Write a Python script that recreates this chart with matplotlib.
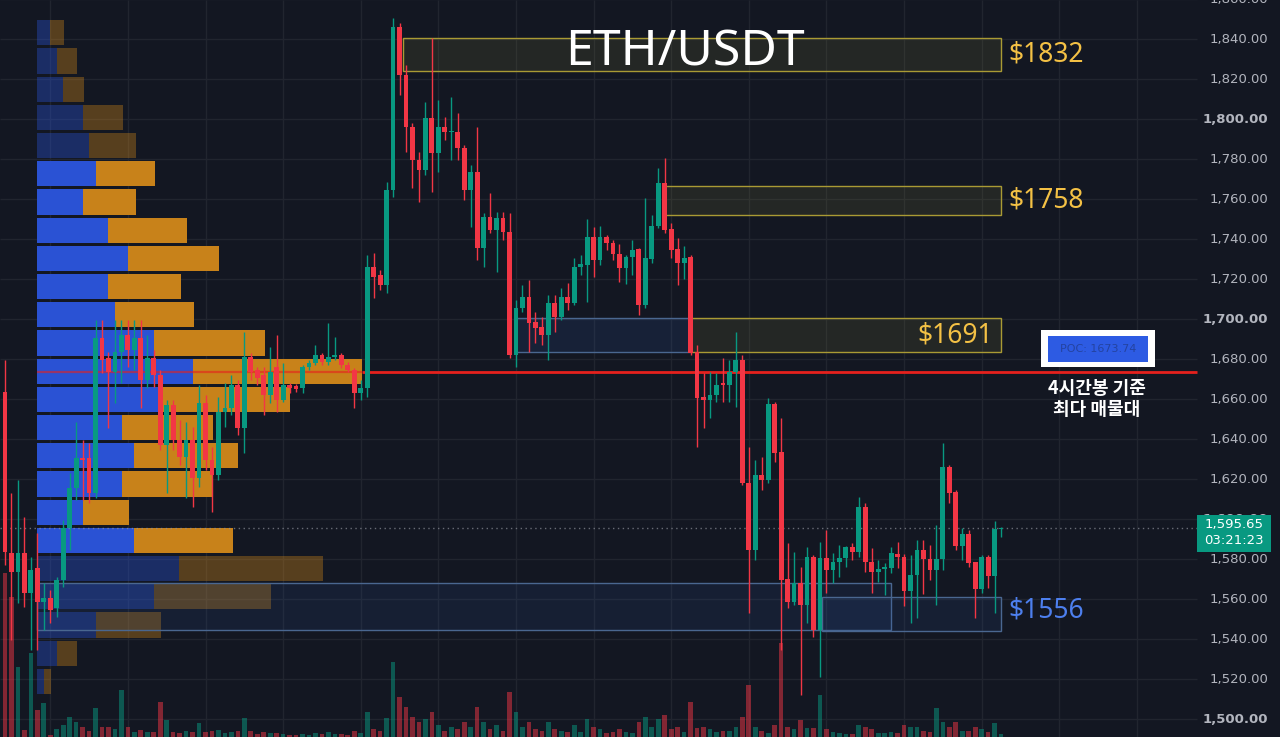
import matplotlib
matplotlib.use('Agg')
import matplotlib.pyplot as plt
from matplotlib.patches import Rectangle
import numpy as np

#### ETH/USDT 4H chart with volume profile ####

BG = '#131722'
UP = '#089981'
DOWN = '#F23645'
GRID = '#21252F'
BLUE = '#2A52D4'
ORANGE = '#C8821A'
GOLD = '#F4C145'

# 4H candles (oldest -> newest)
opens = [1663.5, 1583, 1573.5, 1583, 1563, 1575.5, 1558.5, 1560.5, 1555.5, 1569.5,
         1595.5, 1615.5, 1630.5, 1630.5, 1613, 1690.5, 1680.5, 1673.5, 1683.5, 1692,
         1684.5, 1690.5, 1669.5, 1680.5, 1672, 1637, 1657, 1639.5, 1631, 1639.5,
         1620.5, 1658, 1629.5, 1622, 1653.5, 1655.5, 1667, 1645.5, 1681, 1674.5,
         1672, 1662, 1676, 1659.5, 1667, 1666.5, 1665.5, 1676, 1678, 1682,
         1678.5, 1681, 1682, 1677, 1674.5, 1663, 1665.5, 1726, 1722, 1717,
         1764.5, 1846, 1822, 1796, 1779.5, 1774.5, 1800.5, 1783, 1796, 1793.5,
         1793.5, 1785.5, 1764.5, 1773.5, 1735.5, 1751, 1744.5, 1750.5, 1743.5, 1682,
         1705.5, 1711, 1698.5, 1696, 1692, 1708, 1701, 1711, 1708, 1726,
         1727, 1741, 1729.5, 1741, 1738, 1732.5, 1725.5, 1731, 1735, 1707,
         1730, 1746.5, 1768, 1745, 1735, 1728, 1731, 1683.5, 1661, 1659.5,
         1662, 1668, 1667, 1673.5, 1679.5, 1618, 1584.5, 1622, 1619.5, 1657.5,
         1633.5, 1570, 1558.5, 1568, 1557, 1581, 1544.5, 1580.5, 1574.5, 1578.5,
         1580.5, 1586, 1583.5, 1606, 1578.5, 1573.5, 1575, 1575.5, 1582.5, 1581,
         1564, 1572, 1584.5, 1580, 1574.5, 1580, 1626, 1613.5, 1586.5, 1592.5,
         1578.5, 1565, 1581, 1571.5, 1595]
highs = [1679.5, 1613, 1619.5, 1601, 1581, 1593, 1568, 1564.5, 1571, 1599.5,
         1623, 1648.5, 1639.5, 1638, 1699.5, 1699.5, 1683.5, 1699.5, 1699.5, 1699.5,
         1699.5, 1699.5, 1692, 1684.5, 1674.5, 1659.5, 1659.5, 1649.5, 1648.5, 1646,
         1667, 1662, 1636, 1661, 1668, 1672, 1669.5, 1693.5, 1683, 1676,
         1676, 1686, 1692, 1678, 1668, 1667.5, 1677, 1679.5, 1687, 1683,
         1698, 1691, 1683, 1678.5, 1675.5, 1669.5, 1732, 1733, 1724.5, 1768.5,
         1850.5, 1848, 1827, 1798, 1783.5, 1808.5, 1840.5, 1809.5, 1801, 1811,
         1803, 1787, 1777, 1796, 1753, 1763, 1753.5, 1753.5, 1753, 1709.5,
         1717, 1719.5, 1703.5, 1701, 1712, 1712, 1715.5, 1718, 1730.5, 1732,
         1750, 1746, 1746.5, 1742, 1739.5, 1737.5, 1732, 1739.5, 1735.5, 1760.5,
         1752, 1775.5, 1780.5, 1748, 1740.5, 1736.5, 1732, 1687, 1673, 1673.5,
         1673, 1680.5, 1679.5, 1693.5, 1682, 1636, 1629.5, 1631, 1660.5, 1658.5,
         1650.5, 1588, 1583.5, 1576, 1586, 1582, 1588.5, 1594.5, 1583, 1587,
         1586.5, 1588, 1611, 1608, 1585.5, 1579.5, 1578, 1586, 1588.5, 1582.5,
         1582, 1589.5, 1589.5, 1587, 1597, 1638, 1627, 1614.5, 1595.5, 1594.5,
         1578.5, 1582, 1582, 1599, 1596]
lows = [1577, 1539.5, 1558, 1556, 1534.5, 1534.5, 1544.5, 1548, 1551, 1566,
        1584.5, 1609.5, 1609.5, 1608, 1610.5, 1673, 1645.5, 1658, 1668, 1676,
        1674.5, 1655.5, 1665.5, 1666, 1634.5, 1613, 1634.5, 1627, 1610.5, 1606,
        1616, 1624.5, 1603.5, 1619.5, 1646, 1652, 1642, 1633, 1669.5, 1667,
        1652, 1658, 1653.5, 1658.5, 1663, 1663.5, 1663, 1674.5, 1677, 1677,
        1677, 1679.5, 1675.5, 1673.5, 1655.5, 1659.5, 1661, 1710.5, 1714.5, 1713,
        1761, 1812, 1783.5, 1765.5, 1758.5, 1772, 1763.5, 1773.5, 1789.5, 1779.5,
        1779.5, 1759.5, 1746, 1729.5, 1726, 1743, 1723.5, 1739.5, 1680.5, 1676,
        1703.5, 1683.5, 1688, 1687, 1679.5, 1693.5, 1699.5, 1704.5, 1707, 1722,
        1708.5, 1721, 1727, 1734.5, 1729.5, 1718.5, 1717.5, 1722, 1702, 1705.5,
        1728, 1745.5, 1743, 1730.5, 1717, 1720, 1682, 1636, 1645.5, 1650.5,
        1658.5, 1658.5, 1658.5, 1656, 1617, 1553, 1579.5, 1614.5, 1618, 1628.5,
        1534.5, 1555.5, 1557, 1512, 1548, 1541, 1521, 1563, 1568, 1571,
        1576, 1579.5, 1581, 1573.5, 1563, 1568.5, 1562, 1573, 1575.5, 1556.5,
        1548, 1550.5, 1562.5, 1569.5, 1557, 1574.5, 1608, 1584.5, 1579.5, 1576,
        1550.5, 1563, 1565.5, 1553, 1591]
closes = [1583.5, 1573.5, 1583, 1563, 1574.5, 1558.5, 1560.5, 1554.5, 1569.5, 1595.5,
          1615.5, 1630.5, 1629.5, 1613, 1690.5, 1679.5, 1673.5, 1683.5, 1692, 1684.5,
          1690.5, 1669.5, 1680.5, 1672, 1637, 1657, 1639.5, 1631, 1639.5, 1620.5,
          1658, 1629.5, 1622, 1653.5, 1655.5, 1667, 1645.5, 1681, 1673.5, 1670.5,
          1662, 1673.5, 1659.5, 1667, 1665.5, 1665, 1676, 1678, 1682, 1678.5,
          1681, 1682, 1677, 1674.5, 1663, 1665.5, 1726, 1721, 1717, 1764.5,
          1846, 1822, 1796, 1779.5, 1774.5, 1800.5, 1783, 1796, 1793.5, 1794,
          1785.5, 1764.5, 1773.5, 1735.5, 1751, 1744.5, 1750.5, 1743.5, 1682, 1705.5,
          1711, 1698, 1695.5, 1692, 1708, 1701, 1711, 1708, 1726, 1727.5,
          1741, 1729.5, 1741, 1738, 1732.5, 1725.5, 1731, 1734.5, 1707, 1730.5,
          1746.5, 1768, 1744.5, 1734.5, 1728, 1730.5, 1683, 1660.5, 1659.5, 1662,
          1667, 1667, 1673.5, 1679.5, 1618, 1584.5, 1622, 1619.5, 1657.5, 1633,
          1569.5, 1558.5, 1568, 1557, 1581, 1544.5, 1580.5, 1574.5, 1578.5, 1580.5,
          1586, 1583.5, 1606, 1578.5, 1573.5, 1575, 1576, 1583, 1581, 1564,
          1572, 1584.5, 1580, 1574.5, 1580, 1626, 1613, 1586.5, 1592.5, 1578,
          1565, 1581, 1571.5, 1595, 1595.65]
volumes = [164, 140, 70, 7, 84, 27, 34, 2, 8, 12,
           20, 15, 10, 6, 29, 10, 10, 8, 47, 10,
           5, 7, 5, 5, 35, 17, 5, 4, 6, 5,
           14, 5, 6, 7, 4, 5, 6, 19, 6, 3,
           5, 4, 4, 3, 2, 2, 3, 2, 4, 3,
           5, 3, 3, 2, 6, 4, 25, 8, 6, 19,
           75, 40, 30, 20, 15, 18, 25, 12, 6, 10,
           8, 15, 10, 30, 15, 8, 12, 6, 45, 25,
           10, 15, 8, 6, 15, 8, 6, 5, 12, 5,
           18, 10, 8, 4, 5, 8, 5, 4, 15, 20,
           10, 18, 22, 8, 10, 5, 35, 9, 10, 8,
           5, 6, 6, 10, 20, 52, 10, 6, 4, 12,
           94, 10, 8, 17, 9, 9, 42, 8, 5, 4,
           3, 3, 12, 10, 8, 4, 4, 5, 4, 12,
           10, 10, 6, 5, 29, 15, 10, 15, 6, 6,
           10, 8, 5, 14, 3]

# volume profile rows, bottom -> top
profile_low = 1512.5
profile_step = 14.1
profile_buy = [7, 20, 59, 117, 142, 97, 46, 85, 97, 85, 126, 156,
               117, 78, 71, 91, 71, 46, 59, 52, 46, 26, 20, 13]
profile_sell = [7, 20, 65, 117, 144, 99, 46, 90, 104, 91, 127, 169,
                111, 79, 73, 91, 79, 53, 59, 47, 40, 21, 20, 14]
value_area = (5, 18)
poc = 1673.74
last_price = 1595.65

# key levels: (label, low, high)
resistance = [('$1832', 1824, 1840.5), ('$1758', 1752, 1766.5), ('$1691', 1683.5, 1700.5)]
support_label = '$1556'

n = len(closes)
idx = np.arange(n)
y_lo, y_hi = 1491, 1859.5
x_lo = -0.773
x_hi = x_lo + 1280 / 6.468
x_end = 184.3

fig = plt.figure(figsize=(12.8, 7.37), dpi=100, facecolor=BG)


def layer(rect, xlim, ylim):
    a = fig.add_axes(rect)
    a.set_facecolor('none')
    a.set_xlim(*xlim)
    a.set_ylim(*ylim)
    a.axis('off')
    return a


# grid
ax_bg = layer([0, 0, 1, 1], (x_lo, x_hi), (y_lo, y_hi))
ax_bg.hlines(np.arange(1500, 1861, 20), x_lo, x_end, colors=GRID, lw=1)
ax_bg.vlines(np.arange(7, 176, 12), y_lo, y_hi, colors=GRID, lw=1)

# volume bars
ax_vol = layer([0, 0, 1, 1], (x_lo, x_hi), (0, 737))
up = np.array(closes) >= np.array(opens)
vcol = [UP if u else DOWN for u in up]
ax_vol.bar(idx, volumes, width=0.72, color=vcol, alpha=0.5)

# volume profile
ax_prof = layer([37 / 1280, 0, 400 / 1280, 1], (0, 400), (y_lo, y_hi))
for k in range(len(profile_buy)):
    y0 = profile_low + k * profile_step
    a = 1.0 if value_area[0] <= k <= value_area[1] else 0.38
    ax_prof.barh(y0, profile_buy[k], height=12.6, align='edge', color=BLUE, alpha=a)
    ax_prof.barh(y0, profile_sell[k], left=profile_buy[k], height=12.6, align='edge',
                 color=ORANGE, alpha=a)

# main layer
ax = layer([0, 0, 1, 1], (x_lo, x_hi), (y_lo, y_hi))

# boxes
ax.add_patch(Rectangle((61.5, 1824), 154 - 61.5, 16.5, facecolor='#8C8A3A', alpha=0.14, zorder=1))
ax.add_patch(Rectangle((61.5, 1824), 154 - 61.5, 16.5, fill=False, edgecolor='#A99A34', lw=1, zorder=1))
ax.add_patch(Rectangle((102, 1752), 52, 14.5, facecolor='#8C8A3A', alpha=0.14, zorder=1))
ax.add_patch(Rectangle((102, 1752), 52, 14.5, fill=False, edgecolor='#A99A34', lw=1, zorder=1))
ax.add_patch(Rectangle((106, 1683.5), 48, 17, facecolor='#8C8A3A', alpha=0.14, zorder=1))
ax.add_patch(Rectangle((106, 1683.5), 48, 17, fill=False, edgecolor='#A99A34', lw=1, zorder=1))
ax.add_patch(Rectangle((79, 1683.5), 27, 17, facecolor='#2E5AA8', alpha=0.16, zorder=1))
ax.add_patch(Rectangle((79, 1683.5), 27, 17, fill=False, edgecolor='#4A6790', lw=1, zorder=1))
ax.add_patch(Rectangle((5, 1544.5), 132, 23.5, facecolor='#2E5AA8', alpha=0.13, zorder=1))
ax.add_patch(Rectangle((5, 1544.5), 132, 23.5, fill=False, edgecolor='#4A6790', lw=1, zorder=1))
ax.add_patch(Rectangle((126.3, 1544), 27.7, 17, facecolor='#2E5AA8', alpha=0.13, zorder=1))
ax.add_patch(Rectangle((126.3, 1544), 27.7, 17, fill=False, edgecolor='#4A6790', lw=1, zorder=1))

# POC line and last price line
ax.hlines(poc, 4.95, 55.2, colors='#E5211D', lw=1.6, alpha=0.6, zorder=2)
ax.hlines(poc, 55.2, x_end, colors='#E5211D', lw=2, zorder=2)
ax.hlines(last_price, x_lo, x_end, colors='#8E919B', lw=1, linestyles=(0, (1, 2.5)), alpha=0.7, zorder=2)

# candles
ccol = [UP if u else DOWN for u in up]
body = np.maximum(np.abs(np.array(closes) - np.array(opens)), 0.6)
bottom = np.minimum(opens, closes)
ax.vlines(idx, lows, highs, colors=ccol, lw=1, zorder=3)
ax.bar(idx, body, bottom=bottom, width=0.74, color=ccol, zorder=4)

# price scale
ytf = ax.get_yaxis_transform()
for p in range(1500, 1861, 20):
    ax.text(0.9906, p, '{:,.2f}'.format(p), transform=ytf, ha='right', va='center',
            fontsize=9.5, color='#B2B5BE', fontweight='bold' if p % 100 == 0 else 'normal')
ax.add_patch(Rectangle((0.9352, 1583.5), 0.0578, 18.5, transform=ytf, facecolor=UP, zorder=6))
ax.text(0.964, 1597.2, '{:,.2f}'.format(last_price), transform=ytf, ha='center', va='center',
        fontsize=9.5, color='white', zorder=7)
ax.text(0.964, 1589.2, '03:21:23', transform=ytf, ha='center', va='center',
        fontsize=9.5, color='white', zorder=7)

# annotations
ax.text(0.535, 1833.5, 'ETH/USDT', transform=ytf, ha='center', va='center',
        fontsize=36, color='white', family='Noto Sans', fontweight='semibold', zorder=8)
for label, lo, hi in resistance:
    mid = (lo + hi) / 2
    if label == '$1691':
        ax.text(152.8, mid, label, ha='right', va='center', fontsize=19, color=GOLD,
                family='Noto Sans', fontweight='medium', zorder=8)
    else:
        ax.text(155.1, mid, label, ha='left', va='center', fontsize=19, color=GOLD,
                family='Noto Sans', fontweight='medium', zorder=8)
ax.text(155.1, 1554.5, support_label, ha='left', va='center', fontsize=19, color='#4D7FEE',
        family='Noto Sans', fontweight='medium', zorder=8)

ax.add_patch(Rectangle((160.2, 1676), 17.6, 18.5, facecolor='white', zorder=8))
ax.add_patch(Rectangle((161.3, 1678.5), 15.4, 13, facecolor='#2D5BE3', zorder=9))
ax.text(169, 1685, 'POC: {:.2f}'.format(poc), ha='center', va='center', fontsize=8,
        color='#2443A0', zorder=10)
ax.text(168.8, 1660, '4시간봉 기준\n최다 매물대', ha='center', va='center', fontsize=13,
        color='white', fontweight='bold', linespacing=1.1,
        family=['Noto Sans CJK KR', 'DejaVu Sans'], zorder=10)

fig.savefig('out.png', dpi=100, facecolor=BG)
